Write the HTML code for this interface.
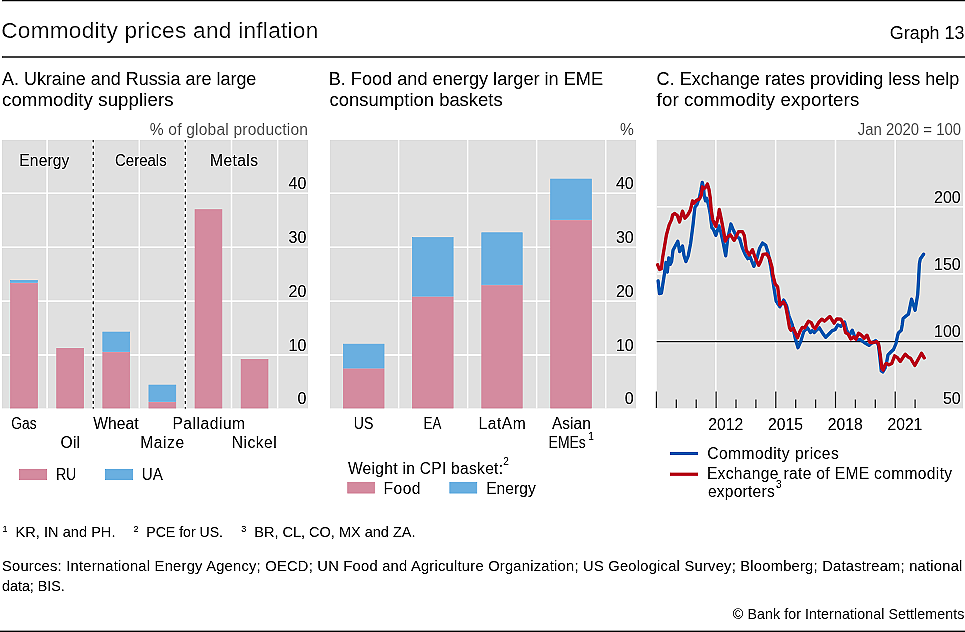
<!DOCTYPE html>
<html><head><meta charset="utf-8"><style>
html,body{margin:0;padding:0;background:#fff;}
svg{display:block;}
text{font-family:"Liberation Sans",sans-serif;}
</style></head><body>
<svg width="965" height="632" viewBox="0 0 965 632">
<defs><filter id="sh" filterUnits="userSpaceOnUse" x="0" y="0" width="965" height="632" color-interpolation-filters="sRGB">
<feConvolveMatrix order="3" kernelMatrix="-0.054 -0.18 -0.054 -0.18 1.936 -0.18 -0.054 -0.18 -0.054" preserveAlpha="true" edgeMode="duplicate"/></filter></defs>
<g filter="url(#sh)">
<rect width="965" height="632" fill="#fff"/>
<rect x="2" y="0" width="963" height="1.3" fill="#000"/>
<rect x="2" y="56" width="963" height="2" fill="#666"/>
<rect x="0" y="630.6" width="965" height="1.4" fill="#000"/>
<rect x="2" y="140" width="306" height="268.4" fill="#e0e0e0"/>
<rect x="2" y="192.45" width="306" height="1.5" fill="#fff"/>
<rect x="2" y="246.45" width="306" height="1.5" fill="#fff"/>
<rect x="2" y="300.35" width="306" height="1.5" fill="#fff"/>
<rect x="2" y="354.25" width="306" height="1.5" fill="#fff"/>
<rect x="46.35" y="140" width="1.5" height="268.4" fill="#fff"/>
<rect x="92.45" y="140" width="1.5" height="268.4" fill="#fff"/>
<rect x="138.55" y="140" width="1.5" height="268.4" fill="#fff"/>
<rect x="184.65" y="140" width="1.5" height="268.4" fill="#fff"/>
<rect x="230.75" y="140" width="1.5" height="268.4" fill="#fff"/>
<rect x="276.85" y="140" width="1.5" height="268.4" fill="#fff"/>
<rect x="10.6" y="283.15000000000003" width="26.900000000000002" height="124.89999999999996" fill="#d48b9f" stroke="#d48b9f" stroke-width="0.7"/>
<rect x="10.6" y="280.45000000000005" width="26.900000000000002" height="1.9999999999999887" fill="#6aafe0" stroke="#6aafe0" stroke-width="0.7"/>
<rect x="56.7" y="348.35" width="26.900000000000002" height="59.699999999999974" fill="#d48b9f" stroke="#d48b9f" stroke-width="0.7"/>
<rect x="102.8" y="352.35" width="26.90000000000001" height="55.699999999999974" fill="#d48b9f" stroke="#d48b9f" stroke-width="0.7"/>
<rect x="102.8" y="332.05" width="26.90000000000001" height="19.600000000000012" fill="#6aafe0" stroke="#6aafe0" stroke-width="0.7"/>
<rect x="148.9" y="402.25" width="26.899999999999995" height="5.8" fill="#d48b9f" stroke="#d48b9f" stroke-width="0.7"/>
<rect x="148.9" y="385.05" width="26.899999999999995" height="16.49999999999999" fill="#6aafe0" stroke="#6aafe0" stroke-width="0.7"/>
<rect x="195.0" y="209.65" width="26.899999999999995" height="198.39999999999998" fill="#d48b9f" stroke="#d48b9f" stroke-width="0.7"/>
<rect x="241.1" y="359.35" width="26.900000000000023" height="48.699999999999974" fill="#d48b9f" stroke="#d48b9f" stroke-width="0.7"/>
<rect x="92.3" y="140" width="2.0" height="268.4" fill="#fff"/>
<line x1="93.3" y1="140" x2="93.3" y2="408.4" stroke="#000" stroke-width="1.4" stroke-dasharray="2.8 3.43" stroke-dashoffset="0.6"/>
<rect x="184.4" y="140" width="2.0" height="268.4" fill="#fff"/>
<line x1="185.4" y1="140" x2="185.4" y2="408.4" stroke="#000" stroke-width="1.4" stroke-dasharray="2.8 3.43" stroke-dashoffset="0.6"/>
<rect x="330" y="140" width="306" height="268.4" fill="#e0e0e0"/>
<rect x="330" y="192.45" width="306" height="1.5" fill="#fff"/>
<rect x="330" y="246.45" width="306" height="1.5" fill="#fff"/>
<rect x="330" y="300.35" width="306" height="1.5" fill="#fff"/>
<rect x="330" y="354.25" width="306" height="1.5" fill="#fff"/>
<rect x="397.85" y="140" width="1.5" height="268.4" fill="#fff"/>
<rect x="466.85" y="140" width="1.5" height="268.4" fill="#fff"/>
<rect x="535.85" y="140" width="1.5" height="268.4" fill="#fff"/>
<rect x="604.95" y="140" width="1.5" height="268.4" fill="#fff"/>
<rect x="343.35" y="368.75" width="40.699999999999974" height="39.3" fill="#d48b9f" stroke="#d48b9f" stroke-width="0.7"/>
<rect x="343.35" y="344.15000000000003" width="40.699999999999974" height="23.899999999999967" fill="#6aafe0" stroke="#6aafe0" stroke-width="0.7"/>
<rect x="412.35" y="296.85" width="40.8" height="111.19999999999997" fill="#d48b9f" stroke="#d48b9f" stroke-width="0.7"/>
<rect x="412.35" y="237.54999999999998" width="40.8" height="58.60000000000001" fill="#6aafe0" stroke="#6aafe0" stroke-width="0.7"/>
<rect x="481.75" y="285.45000000000005" width="40.50000000000004" height="122.59999999999995" fill="#d48b9f" stroke="#d48b9f" stroke-width="0.7"/>
<rect x="481.75" y="232.75" width="40.50000000000004" height="52.000000000000014" fill="#6aafe0" stroke="#6aafe0" stroke-width="0.7"/>
<rect x="550.65" y="220.45" width="40.8" height="187.6" fill="#d48b9f" stroke="#d48b9f" stroke-width="0.7"/>
<rect x="550.65" y="179.04999999999998" width="40.8" height="40.7" fill="#6aafe0" stroke="#6aafe0" stroke-width="0.7"/>
<rect x="656.7" y="140" width="306.29999999999995" height="268.4" fill="#e0e0e0"/>
<rect x="656.7" y="206.05" width="306.3" height="1.5" fill="#fff"/>
<rect x="656.7" y="273.15" width="306.3" height="1.5" fill="#fff"/>
<rect x="715.05" y="140" width="1.5" height="268.4" fill="#fff"/>
<rect x="774.85" y="140" width="1.5" height="268.4" fill="#fff"/>
<rect x="834.75" y="140" width="1.5" height="268.4" fill="#fff"/>
<rect x="894.45" y="140" width="1.5" height="268.4" fill="#fff"/>
<rect x="656.7" y="340.95" width="306.3" height="1.3" fill="#222"/>
<line x1="656.40" y1="391.5" x2="656.40" y2="408" stroke="#4a4a4a" stroke-width="1.4"/>
<line x1="676.30" y1="399.5" x2="676.30" y2="408" stroke="#4a4a4a" stroke-width="1.4"/>
<line x1="696.20" y1="399.5" x2="696.20" y2="408" stroke="#4a4a4a" stroke-width="1.4"/>
<line x1="716.10" y1="391.5" x2="716.10" y2="408" stroke="#4a4a4a" stroke-width="1.4"/>
<line x1="736.00" y1="399.5" x2="736.00" y2="408" stroke="#4a4a4a" stroke-width="1.4"/>
<line x1="755.90" y1="399.5" x2="755.90" y2="408" stroke="#4a4a4a" stroke-width="1.4"/>
<line x1="775.80" y1="391.5" x2="775.80" y2="408" stroke="#4a4a4a" stroke-width="1.4"/>
<line x1="795.70" y1="399.5" x2="795.70" y2="408" stroke="#4a4a4a" stroke-width="1.4"/>
<line x1="815.60" y1="399.5" x2="815.60" y2="408" stroke="#4a4a4a" stroke-width="1.4"/>
<line x1="835.50" y1="391.5" x2="835.50" y2="408" stroke="#4a4a4a" stroke-width="1.4"/>
<line x1="855.40" y1="399.5" x2="855.40" y2="408" stroke="#4a4a4a" stroke-width="1.4"/>
<line x1="875.30" y1="399.5" x2="875.30" y2="408" stroke="#4a4a4a" stroke-width="1.4"/>
<line x1="895.20" y1="391.5" x2="895.20" y2="408" stroke="#4a4a4a" stroke-width="1.4"/>
<line x1="915.10" y1="399.5" x2="915.10" y2="408" stroke="#4a4a4a" stroke-width="1.4"/>
<polyline points="658.1,280.9 659.5,293.7 661.4,293.2 663.8,278.0 664.5,273.0 665.9,262.5 667.3,272.0 668.8,257.8 670.2,264.4 671.6,261.6 673.0,250.2 677.8,241.2 679.7,251.6 682.5,245.9 684.0,255.4 685.9,261.6 688.2,255.9 690.6,243.5 693.0,225.0 694.9,207.3 697.0,204.6 699.5,197.0 701.1,189.4 702.3,182.4 703.6,188.1 704.2,195.7 705.5,200.8 706.8,198.3 708.7,205.8 710.3,214.5 711.0,220.5 711.9,227.8 713.3,229.1 715.8,235.4 719.0,225.9 720.9,232.3 723.4,243.6 725.7,255.8 727.5,240.0 730.9,224.0 733.0,229.2 735.9,235.4 739.7,238.7 742.5,248.2 745.4,254.9 747.8,258.7 750.1,256.8 753.9,266.3 756.8,258.7 759.6,248.2 762.5,243.0 765.8,245.4 768.2,253.0 771.0,268.2 772.0,275.0 774.0,288.0 776.1,301.1 779.9,306.8 783.7,300.1 786.6,305.8 789.0,316.0 792.3,324.9 795.2,338.2 798.0,347.7 800.9,341.1 803.7,331.6 807.5,327.8 810.4,332.5 812.3,330.6 814.2,332.5 817.0,329.7 819.4,327.8 822.2,332.5 825.6,337.3 829.4,333.5 832.2,330.6 835.1,329.7 837.9,324.9 840.8,326.4 844.6,322.1 846.5,329.7 849.3,335.4 852.2,330.2 855.0,337.3 857.6,339.7 860.4,339.7 864.2,342.5 869.0,345.4 871.8,343.0 875.6,340.6 878.5,345.4 879.9,357.7 881.3,371.0 882.8,372.0 885.1,368.2 886.6,362.5 888.0,354.9 890.8,352.0 893.7,349.2 896.0,343.5 897.5,335.9 898.4,333.0 901.3,330.2 902.2,325.0 903.1,318.5 906.0,316.0 908.5,314.1 911.6,299.2 915.1,310.3 917.7,294.5 918.4,282.7 919.4,263.7 920.3,259.0 923.6,254.2" fill="none" stroke="#0656ae" stroke-width="3.3" stroke-linejoin="round" stroke-linecap="round"/>
<polyline points="657.6,264.7 659.5,269.5 661.4,268.8 662.6,257.8 664.5,246.4 666.4,235.0 669.2,224.8 671.6,219.6 672.6,214.9 674.5,213.5 677.3,215.3 679.5,222.0 682.5,211.1 684.9,218.2 687.8,214.9 690.0,210.9 691.1,207.3 692.5,200.8 693.8,203.3 696.6,200.2 699.5,198.9 701.4,195.1 702.3,186.9 703.6,188.8 705.5,187.5 707.4,184.0 709.0,189.4 710.3,198.3 711.2,209.6 712.7,219.6 715.8,226.6 718.4,215.8 719.3,209.5 721.5,220.2 723.4,230.4 725.3,241.1 727.2,237.3 730.4,234.8 734.2,240.5 738.6,231.6 742.4,231.6 744.3,235.4 746.3,250.1 749.2,254.9 752.5,249.7 754.9,256.8 758.7,265.3 760.6,261.5 763.0,254.4 766.7,253.9 769.6,258.7 772.0,267.2 772.8,274.5 775.2,284.0 777.6,286.8 779.9,304.9 783.3,302.0 785.6,305.8 787.6,316.4 789.5,327.8 790.9,330.2 793.3,328.3 795.7,333.5 797.6,337.8 799.9,331.6 802.3,327.3 804.7,327.8 808.5,321.1 811.3,322.6 813.2,326.8 815.1,328.7 818.9,322.1 821.8,319.2 824.6,321.1 829.8,316.4 834.1,323.0 837.0,318.8 840.8,319.2 843.6,324.0 845.5,332.5 848.4,334.4 850.7,339.0 853.8,337.0 855.9,339.2 858.6,333.2 861.6,335.4 864.2,338.3 867.0,335.2 869.9,342.5 873.7,342.5 876.6,341.6 878.5,343.5 880.4,355.8 881.8,368.2 883.2,370.1 885.1,364.4 886.6,363.4 888.9,364.8 891.8,363.4 894.6,355.8 897.5,357.7 900.3,361.5 905.2,354.2 908.6,357.4 910.6,358.2 914.8,365.5 921.5,353.2 924.2,357.8" fill="none" stroke="#b8061c" stroke-width="3.3" stroke-linejoin="round" stroke-linecap="round"/>
<rect x="19.4" y="469.4" width="27.2" height="10.2" fill="#d48b9f" stroke="#d48b9f" stroke-width="0.8"/>
<rect x="105.5" y="469.4" width="27.2" height="10.2" fill="#6aafe0" stroke="#6aafe0" stroke-width="0.8"/>
<rect x="347.7" y="482.5" width="26.7" height="10.599999999999977" fill="#d48b9f" stroke="#d48b9f" stroke-width="0.8"/>
<rect x="449.79999999999995" y="482.5" width="27.00000000000001" height="10.599999999999977" fill="#6aafe0" stroke="#6aafe0" stroke-width="0.8"/>
<rect x="669.9" y="451.9" width="28" height="3.2" fill="#0656ae"/>
<rect x="669.9" y="472.6" width="28" height="3.2" fill="#b8061c"/>
<text x="1.20" y="38.30" font-size="22.6" fill="#000" letter-spacing="0.281" stroke="#fff" stroke-width="0.18">Commodity prices and inflation</text>
<text transform="translate(889.80,39.30) scale(0.9782,1)" x="0.00" y="0" font-size="18.3" fill="#000">Graph 13</text>
<text transform="translate(2.00,84.60) scale(0.9658,1)" x="0.00" y="0" font-size="18.6" fill="#000">A. Ukraine and Russia are large</text>
<text x="2.00" y="105.60" font-size="18.6" fill="#000" letter-spacing="0.118">commodity suppliers</text>
<text transform="translate(329.60,84.60) scale(0.9763,1)" x="-1.00" y="0" font-size="18.6" fill="#000">B. Food and energy larger in EME</text>
<text transform="translate(329.60,105.60) scale(0.9910,1)" x="0.00" y="0" font-size="18.6" fill="#000">consumption baskets</text>
<text transform="translate(656.60,84.60) scale(0.9705,1)" x="0.00" y="0" font-size="18.6" fill="#000">C. Exchange rates providing less help</text>
<text x="656.60" y="105.60" font-size="18.6" fill="#000" letter-spacing="0.144">for commodity exporters</text>
<text x="149.80" y="134.70" font-size="15.6" fill="#6f6f6f" letter-spacing="0.184">% of global production</text>
<text x="620.00" y="134.50" font-size="15.6" fill="#6f6f6f">%</text>
<text transform="translate(857.70,134.80) scale(0.9577,1)" x="0.00" y="0" font-size="15.6" fill="#6f6f6f">Jan 2020 = 100</text>
<text x="19.30" y="166.20" font-size="15.6" fill="#000" letter-spacing="0.138">Energy</text>
<text transform="translate(115.00,166.20) scale(0.9623,1)" x="0.00" y="0" font-size="15.6" fill="#000">Cereals</text>
<text x="210.00" y="166.20" font-size="15.6" fill="#000" letter-spacing="0.414">Metals</text>
<text x="288.50" y="188.90" font-size="16" fill="#000">40</text>
<text x="615.90" y="188.90" font-size="16" fill="#000">40</text>
<text x="288.50" y="242.90" font-size="16" fill="#000">30</text>
<text x="615.90" y="242.90" font-size="16" fill="#000">30</text>
<text x="288.50" y="296.80" font-size="16" fill="#000">20</text>
<text x="615.90" y="296.80" font-size="16" fill="#000">20</text>
<text x="288.50" y="350.70" font-size="16" fill="#000">10</text>
<text x="615.90" y="350.70" font-size="16" fill="#000">10</text>
<text x="297.40" y="404.10" font-size="16" fill="#000">0</text>
<text x="624.80" y="404.10" font-size="16" fill="#000">0</text>
<text x="934.00" y="202.50" font-size="16" fill="#000">200</text>
<text x="934.00" y="269.60" font-size="16" fill="#000">150</text>
<text x="934.00" y="336.90" font-size="16" fill="#000">100</text>
<text x="942.90" y="404.30" font-size="16" fill="#000">50</text>
<text transform="translate(11.30,429.40) scale(0.8854,1)" x="0.00" y="0" font-size="15.6" fill="#000">Gas</text>
<text x="60.50" y="447.50" font-size="15.6" fill="#000" letter-spacing="0.253">Oil</text>
<text x="93.20" y="429.40" font-size="15.6" fill="#000" letter-spacing="0.091">Wheat</text>
<text x="140.30" y="447.50" font-size="15.6" fill="#000" letter-spacing="0.544">Maize</text>
<text x="172.40" y="429.40" font-size="15.6" fill="#000" letter-spacing="0.527">Palladium</text>
<text x="231.80" y="447.50" font-size="15.6" fill="#000" letter-spacing="0.502">Nickel</text>
<text transform="translate(354.60,429.40) scale(0.9032,1)" x="-1.00" y="0" font-size="15.6" fill="#000">US</text>
<text transform="translate(424.40,429.40) scale(0.8529,1)" x="-1.00" y="0" font-size="15.6" fill="#000">EA</text>
<text x="478.40" y="429.40" font-size="15.6" fill="#000" letter-spacing="0.580">LatAm</text>
<text transform="translate(552.00,429.40) scale(0.9939,1)" x="0.00" y="0" font-size="15.6" fill="#000">Asian</text>
<text transform="translate(549.50,447.50) scale(0.8948,1)" x="-1.00" y="0" font-size="15.6" fill="#000">EMEs</text>
<text transform="translate(708.35,429.90) scale(0.9805,1)" x="0.00" y="0" font-size="16" fill="#000">2012</text>
<text transform="translate(768.05,429.90) scale(0.9805,1)" x="0.00" y="0" font-size="16" fill="#000">2015</text>
<text transform="translate(827.75,429.90) scale(0.9805,1)" x="0.00" y="0" font-size="16" fill="#000">2018</text>
<text transform="translate(887.45,429.90) scale(0.9805,1)" x="0.00" y="0" font-size="16" fill="#000">2021</text>
<text transform="translate(56.80,480.40) scale(0.9078,1)" x="-1.00" y="0" font-size="15.6" fill="#000">RU</text>
<text transform="translate(142.70,480.40) scale(0.9736,1)" x="-1.00" y="0" font-size="15.6" fill="#000">UA</text>
<text x="347.90" y="473.80" font-size="15.6" fill="#000" letter-spacing="0.274">Weight in CPI basket:</text>
<text x="383.60" y="494.00" font-size="15.6" fill="#000" letter-spacing="0.443">Food</text>
<text x="486.20" y="494.00" font-size="15.6" fill="#000" letter-spacing="0.018">Energy</text>
<text x="707.20" y="458.50" font-size="15.6" fill="#000" letter-spacing="0.454">Commodity prices</text>
<text x="706.90" y="479.00" font-size="15.6" fill="#000" letter-spacing="0.326">Exchange rate of EME commodity</text>
<text x="707.90" y="496.50" font-size="15.6" fill="#000" letter-spacing="0.224">exporters</text>
<text x="15.60" y="537.40" font-size="14.5" fill="#000" letter-spacing="0.054">KR, IN and PH.</text>
<text transform="translate(147.20,537.40) scale(0.9735,1)" x="-1.00" y="0" font-size="14.5" fill="#000">PCE for US.</text>
<text x="254.30" y="537.40" font-size="14.5" fill="#000">BR, CL, CO, MX and ZA.</text>
<text x="2.00" y="570.60" font-size="14.7" fill="#000" letter-spacing="0.246">Sources: International Energy Agency; OECD; UN Food and Agriculture Organization; US Geological Survey; Bloomberg; Datastream; national</text>
<text transform="translate(2.00,591.30) scale(0.9744,1)" x="0.00" y="0" font-size="14.7" fill="#000">data; BIS.</text>
<text x="732.80" y="618.80" font-size="14.2" fill="#222" letter-spacing="0.097">© Bank for International Settlements</text>
<text x="588.20" y="439.60" font-size="10" fill="#000">1</text>
<text x="503.30" y="465.30" font-size="10" fill="#000">2</text>
<text x="775.90" y="488.20" font-size="10" fill="#000">3</text>
<text x="2.60" y="532.20" font-size="9" fill="#000">1</text>
<text x="133.40" y="532.20" font-size="9" fill="#000">2</text>
<text x="241.20" y="532.20" font-size="9" fill="#000">3</text>
</g>
</svg>
</body></html>
